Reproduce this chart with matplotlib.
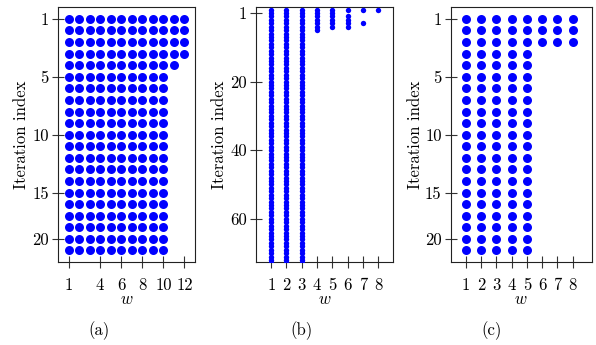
import matplotlib
matplotlib.use('Agg')
import matplotlib.pyplot as plt

plt.rcParams['font.family'] = 'serif'
plt.rcParams['font.serif'] = ['cmr10']
plt.rcParams['mathtext.fontset'] = 'cm'
plt.rcParams['axes.formatter.use_mathtext'] = True

# (a) number of iterations kept for each w
a_w = list(range(1, 13))
a_counts = [21, 21, 21, 21, 21, 21, 21, 21, 21, 21, 5, 4]
a_xticks = [1, 4, 6, 8, 10, 12]
a_yticks = [1, 6, 11, 16, 20]
a_ylabels = ['1', '5', '10', '15', '20']

# (b) iterations present for each w
b_w = [1, 2, 3, 4, 5, 6, 7, 8]
b_iters = [list(range(1, 76)), list(range(1, 76)), list(range(1, 76)),
           [1, 2, 3, 4, 5, 6, 7], [1, 2, 3, 4, 5, 6],
           [1, 3, 4, 5, 6], [1, 5], [1]]
b_xticks = [1, 2, 3, 4, 5, 6, 7, 8]
b_yticks = [2, 22, 42, 62]
b_ylabels = ['1', '20', '40', '60']

# (c)
c_w = [1, 2, 3, 4, 5, 6, 7, 8]
c_counts = [21, 21, 21, 21, 21, 3, 3, 3]
c_xticks = [1, 2, 3, 4, 5, 6, 7, 8]
c_yticks = [1, 6, 11, 16, 20]
c_ylabels = ['1', '5', '10', '15', '20']

fs = 12
fig = plt.figure(figsize=(5.96, 3.45), dpi=100)
ax_a = fig.add_axes([0.0973, 0.2406, 0.2299, 0.7382])
ax_b = fig.add_axes([0.4295, 0.2406, 0.2304, 0.7382])
ax_c = fig.add_axes([0.7562, 0.2406, 0.2366, 0.7382])


def expand(ws, iters):
    xs, ys = [], []
    for w, it in zip(ws, iters):
        xs += [w] * len(it)
        ys += list(it)
    return xs, ys


xa, ya = expand(a_w, [range(1, n + 1) for n in a_counts])
xb, yb = expand(b_w, b_iters)
xc, yc = expand(c_w, [range(1, n + 1) for n in c_counts])

ax_a.scatter(xa, ya, s=42, color='#0000ff', linewidths=0, zorder=3)
ax_b.scatter(xb, yb, s=15, color='#0000ff', linewidths=0, zorder=3)
ax_c.scatter(xc, yc, s=42, color='#0000ff', linewidths=0, zorder=3)

ax_a.set_xlim(0, 13)
ax_a.set_ylim(22, 0)
ax_b.set_xlim(0, 9)
ax_b.set_ylim(74.6, 0.33)
ax_c.set_xlim(0, 9.25)
ax_c.set_ylim(22, 0)

for ax, xt, yt, yl in [(ax_a, a_xticks, a_yticks, a_ylabels),
                       (ax_b, b_xticks, b_yticks, b_ylabels),
                       (ax_c, c_xticks, c_yticks, c_ylabels)]:
    ax.set_xticks(xt)
    ax.set_xticklabels([str(v) for v in xt])
    ax.set_yticks(yt)
    ax.set_yticklabels(yl)
    ax.tick_params(direction='inout', length=9, width=0.8, labelsize=fs,
                   color='#333333')
    ax.tick_params(axis='x', pad=7)
    ax.tick_params(axis='y', pad=2)
    for sp in ax.spines.values():
        sp.set_linewidth(0.8)
        sp.set_color('#222222')
    ax.set_xlabel('$w$', fontsize=fs)
    ax.set_ylabel('Iteration index', fontsize=fs)
    ax.xaxis.set_label_coords(0.5, -0.115)

ax_a.yaxis.set_label_coords(-0.21, 0.5)
ax_b.yaxis.set_label_coords(-0.21, 0.5)
ax_c.yaxis.set_label_coords(-0.195, 0.5)

fig.text(99 / 596, 1 - 331 / 345, '(a)', ha='center', va='center', fontsize=fs)
fig.text(301 / 596, 1 - 331 / 345, '(b)', ha='center', va='center', fontsize=fs)
fig.text(492 / 596, 1 - 331 / 345, '(c)', ha='center', va='center', fontsize=fs)

fig.savefig('out.png', dpi=100)
